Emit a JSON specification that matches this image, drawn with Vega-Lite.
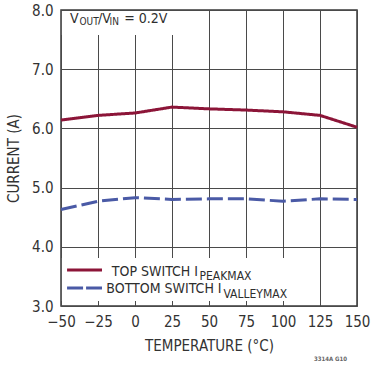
{
  "$schema": "https://vega.github.io/schema/vega-lite/v6.json",
  "width": 296,
  "height": 296,
  "autosize": {"type": "none"},
  "padding": {"left": 61, "top": 10, "right": 16, "bottom": 61},
  "background": "white",
  "config": {
    "view": {"stroke": "#3a3a3a", "strokeWidth": 1.5},
    "font": "DejaVu Sans Condensed, Liberation Sans, sans-serif",
    "axis": {
      "grid": true,
      "gridColor": "#4a4a4a",
      "gridWidth": 1,
      "gridOpacity": 1,
      "domain": false,
      "ticks": false,
      "labelOverlap": false,
      "labelFontSize": 15,
      "labelColor": "#333333",
      "titleFontSize": 15,
      "titleFontWeight": "normal",
      "titleColor": "#333333"
    },
    "text": {"color": "#2e2e2e", "baseline": "alphabetic"}
  },
  "datasets": {
    "curves": [
      {"series": "top", "temp": -50, "current": 6.14},
      {"series": "top", "temp": -25, "current": 6.22},
      {"series": "top", "temp": 0, "current": 6.26},
      {"series": "top", "temp": 25, "current": 6.36},
      {"series": "top", "temp": 50, "current": 6.33},
      {"series": "top", "temp": 75, "current": 6.31},
      {"series": "top", "temp": 100, "current": 6.28},
      {"series": "top", "temp": 125, "current": 6.22},
      {"series": "top", "temp": 150, "current": 6.02},
      {"series": "bottom", "temp": -50, "current": 4.63},
      {"series": "bottom", "temp": -25, "current": 4.77},
      {"series": "bottom", "temp": 0, "current": 4.83},
      {"series": "bottom", "temp": 25, "current": 4.8},
      {"series": "bottom", "temp": 50, "current": 4.81},
      {"series": "bottom", "temp": 75, "current": 4.81},
      {"series": "bottom", "temp": 100, "current": 4.77},
      {"series": "bottom", "temp": 125, "current": 4.81},
      {"series": "bottom", "temp": 150, "current": 4.8}
    ],
    "one": [{}]
  },
  "layer": [
    {
      "data": {"name": "curves"},
      "mark": {"type": "line", "strokeWidth": 3},
      "encoding": {
        "x": {
          "field": "temp",
          "type": "quantitative",
          "title": "TEMPERATURE (°C)",
          "scale": {"domain": [-50, 150], "nice": false, "zero": false},
          "axis": {"values": [-50, -25, 0, 25, 50, 75, 100, 125, 150], "labelPadding": 8, "titlePadding": 9, "labelFlush": false}
        },
        "y": {
          "field": "current",
          "type": "quantitative",
          "title": "CURRENT (A)",
          "scale": {"domain": [3, 8], "nice": false, "zero": false},
          "axis": {"values": [3, 4, 5, 6, 7, 8], "format": ".1f", "labelPadding": 8, "titlePadding": 10}
        },
        "color": {
          "field": "series",
          "type": "nominal",
          "scale": {"domain": ["top", "bottom"], "range": ["#8c1538", "#4a5aa6"]},
          "legend": null
        },
        "strokeDash": {
          "field": "series",
          "type": "nominal",
          "scale": {"domain": ["top", "bottom"], "range": [[1, 0], [16, 5]]},
          "legend": null
        }
      }
    },
    {
      "data": {"name": "one"},
      "mark": {"type": "rect", "fill": "white"},
      "encoding": {
        "x": {"datum": -49.4, "title": "TEMPERATURE (°C)", "axis": {"values": [-50, -25, 0, 25, 50, 75, 100, 125, 150], "labelPadding": 8, "titlePadding": 9, "labelFlush": false}},
        "x2": {"datum": 40},
        "y": {"datum": 7.985, "title": "CURRENT (A)", "axis": {"values": [3, 4, 5, 6, 7, 8], "format": ".1f", "labelPadding": 8, "titlePadding": 10}},
        "y2": {"datum": 7.578}
      }
    },
    {
      "data": {"name": "one"},
      "mark": {"type": "rect", "fill": "white"},
      "encoding": {
        "x": {"datum": -49.4, "title": "TEMPERATURE (°C)", "axis": {"values": [-50, -25, 0, 25, 50, 75, 100, 125, 150], "labelPadding": 8, "titlePadding": 9, "labelFlush": false}},
        "x2": {"datum": 118},
        "y": {"datum": 3.81, "title": "CURRENT (A)", "axis": {"values": [3, 4, 5, 6, 7, 8], "format": ".1f", "labelPadding": 8, "titlePadding": 10}},
        "y2": {"datum": 3.085}
      }
    },
    {
      "data": {"name": "one"},
      "mark": {"type": "rule", "color": "#8c1538", "strokeWidth": 3},
      "encoding": {
        "x": {"datum": -45.9, "title": "TEMPERATURE (°C)", "axis": {"values": [-50, -25, 0, 25, 50, 75, 100, 125, 150], "labelPadding": 8, "titlePadding": 9, "labelFlush": false}},
        "x2": {"datum": -22.3},
        "y": {"datum": 3.608, "title": "CURRENT (A)", "axis": {"values": [3, 4, 5, 6, 7, 8], "format": ".1f", "labelPadding": 8, "titlePadding": 10}}
      }
    },
    {
      "data": {"name": "one"},
      "mark": {"type": "rule", "color": "#4a5aa6", "strokeWidth": 3, "strokeDash": [16, 3]},
      "encoding": {
        "x": {"datum": -45.9, "title": "TEMPERATURE (°C)", "axis": {"values": [-50, -25, 0, 25, 50, 75, 100, 125, 150], "labelPadding": 8, "titlePadding": 9, "labelFlush": false}},
        "x2": {"datum": -22.3},
        "y": {"datum": 3.304, "title": "CURRENT (A)", "axis": {"values": [3, 4, 5, 6, 7, 8], "format": ".1f", "labelPadding": 8, "titlePadding": 10}}
      }
    },
    {
      "data": {"name": "one"},
      "mark": {"type": "text", "text": "TOP SWITCH I", "align": "right", "fontSize": 14},
      "encoding": {
        "x": {"datum": 42.6, "title": "TEMPERATURE (°C)", "axis": {"values": [-50, -25, 0, 25, 50, 75, 100, 125, 150], "labelPadding": 8, "titlePadding": 9, "labelFlush": false}},
        "y": {"datum": 3.507, "title": "CURRENT (A)", "axis": {"values": [3, 4, 5, 6, 7, 8], "format": ".1f", "labelPadding": 8, "titlePadding": 10}}
      }
    },
    {
      "data": {"name": "one"},
      "mark": {"type": "text", "text": "PEAKMAX", "align": "left", "fontSize": 12},
      "encoding": {
        "x": {"datum": 43.6, "title": "TEMPERATURE (°C)", "axis": {"values": [-50, -25, 0, 25, 50, 75, 100, 125, 150], "labelPadding": 8, "titlePadding": 9, "labelFlush": false}},
        "y": {"datum": 3.44, "title": "CURRENT (A)", "axis": {"values": [3, 4, 5, 6, 7, 8], "format": ".1f", "labelPadding": 8, "titlePadding": 10}}
      }
    },
    {
      "data": {"name": "one"},
      "mark": {"type": "text", "text": "BOTTOM SWITCH I", "align": "right", "fontSize": 14},
      "encoding": {
        "x": {"datum": 58.5, "title": "TEMPERATURE (°C)", "axis": {"values": [-50, -25, 0, 25, 50, 75, 100, 125, 150], "labelPadding": 8, "titlePadding": 9, "labelFlush": false}},
        "y": {"datum": 3.22, "title": "CURRENT (A)", "axis": {"values": [3, 4, 5, 6, 7, 8], "format": ".1f", "labelPadding": 8, "titlePadding": 10}}
      }
    },
    {
      "data": {"name": "one"},
      "mark": {"type": "text", "text": "VALLEYMAX", "align": "left", "fontSize": 12},
      "encoding": {
        "x": {"datum": 59.8, "title": "TEMPERATURE (°C)", "axis": {"values": [-50, -25, 0, 25, 50, 75, 100, 125, 150], "labelPadding": 8, "titlePadding": 9, "labelFlush": false}},
        "y": {"datum": 3.14, "title": "CURRENT (A)", "axis": {"values": [3, 4, 5, 6, 7, 8], "format": ".1f", "labelPadding": 8, "titlePadding": 10}}
      }
    },
    {
      "data": {"name": "one"},
      "mark": {"type": "text", "text": "V", "align": "left", "fontSize": 14},
      "encoding": {
        "x": {"datum": -43.9, "title": "TEMPERATURE (°C)", "axis": {"values": [-50, -25, 0, 25, 50, 75, 100, 125, 150], "labelPadding": 8, "titlePadding": 9, "labelFlush": false}},
        "y": {"datum": 7.775, "title": "CURRENT (A)", "axis": {"values": [3, 4, 5, 6, 7, 8], "format": ".1f", "labelPadding": 8, "titlePadding": 10}}
      }
    },
    {
      "data": {"name": "one"},
      "mark": {"type": "text", "text": "OUT", "align": "left", "fontSize": 10},
      "encoding": {
        "x": {"datum": -37.5, "title": "TEMPERATURE (°C)", "axis": {"values": [-50, -25, 0, 25, 50, 75, 100, 125, 150], "labelPadding": 8, "titlePadding": 9, "labelFlush": false}},
        "y": {"datum": 7.747, "title": "CURRENT (A)", "axis": {"values": [3, 4, 5, 6, 7, 8], "format": ".1f", "labelPadding": 8, "titlePadding": 10}}
      }
    },
    {
      "data": {"name": "one"},
      "mark": {"type": "text", "text": "/V", "align": "left", "fontSize": 14},
      "encoding": {
        "x": {"datum": -25.0, "title": "TEMPERATURE (°C)", "axis": {"values": [-50, -25, 0, 25, 50, 75, 100, 125, 150], "labelPadding": 8, "titlePadding": 9, "labelFlush": false}},
        "y": {"datum": 7.775, "title": "CURRENT (A)", "axis": {"values": [3, 4, 5, 6, 7, 8], "format": ".1f", "labelPadding": 8, "titlePadding": 10}}
      }
    },
    {
      "data": {"name": "one"},
      "mark": {"type": "text", "text": "IN", "align": "left", "fontSize": 10},
      "encoding": {
        "x": {"datum": -17.2, "title": "TEMPERATURE (°C)", "axis": {"values": [-50, -25, 0, 25, 50, 75, 100, 125, 150], "labelPadding": 8, "titlePadding": 9, "labelFlush": false}},
        "y": {"datum": 7.747, "title": "CURRENT (A)", "axis": {"values": [3, 4, 5, 6, 7, 8], "format": ".1f", "labelPadding": 8, "titlePadding": 10}}
      }
    },
    {
      "data": {"name": "one"},
      "mark": {"type": "text", "text": "= 0.2V", "align": "left", "fontSize": 14},
      "encoding": {
        "x": {"datum": -7.3, "title": "TEMPERATURE (°C)", "axis": {"values": [-50, -25, 0, 25, 50, 75, 100, 125, 150], "labelPadding": 8, "titlePadding": 9, "labelFlush": false}},
        "y": {"datum": 7.775, "title": "CURRENT (A)", "axis": {"values": [3, 4, 5, 6, 7, 8], "format": ".1f", "labelPadding": 8, "titlePadding": 10}}
      }
    },
    {
      "data": {"name": "one"},
      "mark": {"type": "text", "text": "3314A G10", "align": "right", "fontSize": 6, "fontWeight": "bold", "color": "#666666"},
      "encoding": {
        "x": {"datum": 143.2, "title": "TEMPERATURE (°C)", "axis": {"values": [-50, -25, 0, 25, 50, 75, 100, 125, 150], "labelPadding": 8, "titlePadding": 9, "labelFlush": false}},
        "y": {"datum": 2.07, "title": "CURRENT (A)", "axis": {"values": [3, 4, 5, 6, 7, 8], "format": ".1f", "labelPadding": 8, "titlePadding": 10}}
      }
    }
  ]
}
